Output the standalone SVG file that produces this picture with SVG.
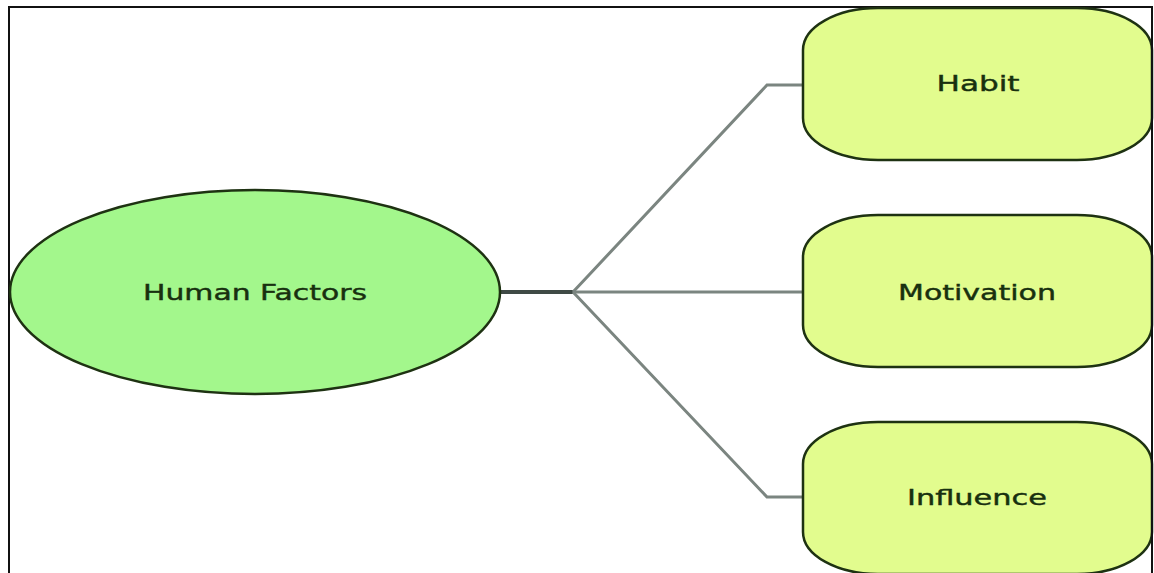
<svg xmlns="http://www.w3.org/2000/svg" width="1154" height="573" viewBox="0 0 1154 573">
<style>
.frame{fill:#ffffff;stroke:#111111;stroke-width:2}
.oval{fill:#a3f78c;stroke:#1e3212;stroke-width:2.5}
.box{fill:#e2fc8e;stroke:#1e3212;stroke-width:2.5}
.conn{fill:none;stroke:#7b8580;stroke-width:3}
.stub{fill:none;stroke:#3f4a45;stroke-width:4}
.lbl{font-family:"DejaVu Sans",Verdana,sans-serif;font-size:21px;fill:#18300f;stroke:#18300f;stroke-width:0.4;text-anchor:middle}
</style>
<rect x="0" y="0" width="1154" height="573" fill="#ffffff"/>
<rect class="frame" x="9" y="7" width="1143" height="580"/>
<g id="connectors">
<path class="stub" d="M500,292 L573,292"/>
<path class="conn" d="M573,292 L767,85 L803,85"/>
<path class="conn" d="M573,292 L803,292"/>
<path class="conn" d="M573,292 L767,497 L803,497"/>
</g>
<g id="human-factors">
<ellipse class="oval" cx="255" cy="292" rx="245" ry="102"/>
<text class="lbl" x="255" y="300" textLength="224" lengthAdjust="spacingAndGlyphs">Human Factors</text>
</g>
<g id="habit">
<rect class="box" x="803" y="8" width="349" height="152" rx="75" ry="42"/>
<text class="lbl" x="978" y="91" textLength="83" lengthAdjust="spacingAndGlyphs">Habit</text>
</g>
<g id="motivation">
<rect class="box" x="803" y="215" width="349" height="152" rx="75" ry="42"/>
<text class="lbl" x="977" y="300" textLength="158" lengthAdjust="spacingAndGlyphs">Motivation</text>
</g>
<g id="influence">
<rect class="box" x="803" y="422" width="349" height="152" rx="75" ry="42"/>
<text class="lbl" x="977" y="505" textLength="140" lengthAdjust="spacingAndGlyphs">Influence</text>
</g>
<line x1="1152" y1="6" x2="1152" y2="573" stroke="#111111" stroke-width="2"/>
</svg>
